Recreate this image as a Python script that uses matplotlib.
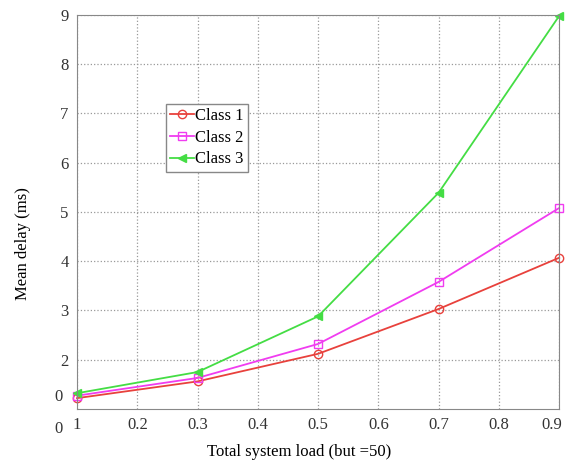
import matplotlib.pyplot as plt
import matplotlib.transforms as mtransforms

# data
load = [0.1, 0.3, 0.5, 0.7, 0.9]
class1 = [1.22, 1.56, 2.12, 3.03, 4.07]
class2 = [1.27, 1.63, 2.32, 3.58, 5.08]
class3 = [1.32, 1.75, 2.88, 5.39, 8.98]

xticks = [0.1, 0.2, 0.3, 0.4, 0.5, 0.6, 0.7, 0.8, 0.9]
xticklabels = ['1', '0.2', '0.3', '0.4', '0.5', '0.6', '0.7', '0.8', '0.9']
yticks = [2, 3, 4, 5, 6, 7, 8, 9]

plt.rcParams['font.family'] = ['Liberation Serif', 'DejaVu Serif']

fig = plt.figure(figsize=(5.66, 4.72), dpi=100)
ax = fig.add_axes([0.136, 0.1335, 0.852, 0.835])

ax.plot(load, class1, color='#e8413c', marker='o', mfc='none', ms=6, lw=1.3, label='Class 1', clip_on=False)
ax.plot(load, class2, color='#f03cf0', marker='s', mfc='none', ms=6, lw=1.3, label='Class 2', clip_on=False)
ax.plot(load, class3, color='#44dd44', marker='<', ms=6, lw=1.3, label='Class 3', clip_on=False)

ax.set_xlim(0.1, 0.9)
ax.set_ylim(1, 9)
ax.set_xticks(xticks)
ax.set_xticklabels(xticklabels)
ax.set_yticks(yticks)
ax.tick_params(labelsize=12, length=0, pad=6, colors='#333333')
ax.grid(True, linestyle=':', color='#999999', lw=0.9)
for s in ax.spines.values():
    s.set_color('#888888')

# keep the last x label inside the figure
last = ax.get_xticklabels()[-1]
last.set_transform(last.get_transform() + mtransforms.ScaledTranslation(-7 / 100, 0, fig.dpi_scale_trans))

# stray "0" labels of the original
trans = mtransforms.blended_transform_factory(ax.transAxes, ax.transData)
ax.text(-0.03, 1.25, '0', transform=trans, ha='right', va='center', fontsize=12, color='#333333')
ax.text(-0.03, -0.03, '0', transform=ax.transAxes, ha='right', va='top', fontsize=12, color='#333333')

ax.set_xlabel('Total system load (but =50)', fontsize=12)
ax.set_ylabel('Mean delay (ms)', fontsize=12)
ax.yaxis.set_label_coords(-0.095, 0.42)
ax.xaxis.set_label_coords(0.46, -0.09)

leg = ax.legend(loc='upper left', bbox_to_anchor=(0.185, 0.775), fontsize=12, handlelength=1.4,
                handletextpad=0.1, borderpad=0.25, labelspacing=0.35, fancybox=False,
                framealpha=1, edgecolor='#888888', borderaxespad=0)

fig.savefig('out.png', dpi=100)
